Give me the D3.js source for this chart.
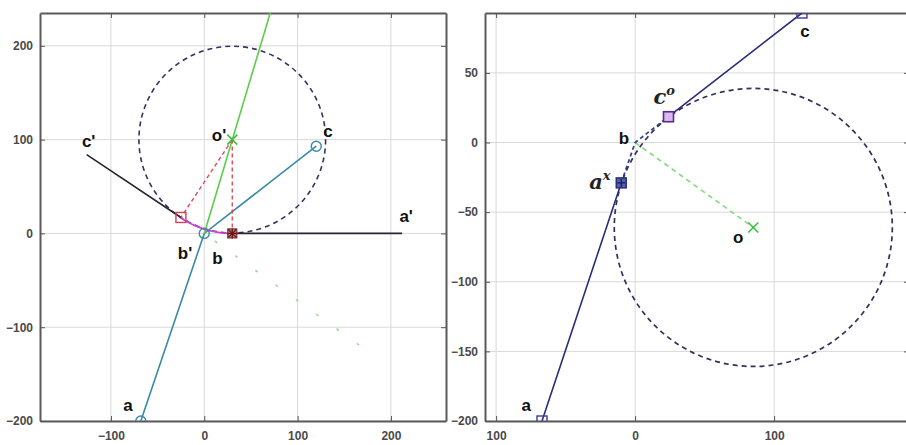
<!DOCTYPE html>
<html><head><meta charset="utf-8">
<script src="https://cdn.jsdelivr.net/npm/d3@7/dist/d3.min.js"></script>
<style>
body{margin:0;background:#fff;}
svg{display:block;}
.tick text{font-family:Arial,"Liberation Sans",sans-serif;font-size:12px;font-weight:bold;fill:#4a4a4a;}
.lbl{font-family:Arial,"Liberation Sans",sans-serif;font-weight:bold;font-size:17px;fill:#111;}
.math{font-family:"DejaVu Serif","Liberation Serif",serif;font-style:italic;font-weight:bold;fill:#222;}
</style></head>
<body>
<svg id="chart" width="906" height="445"></svg>
<script>
// ---------- LEFT PANEL DATA ----------
const L_xDomain = [-176, 259];
const L_yDomain = [-200, 235];
const L_xTicks = [-100, 0, 100, 200];
const L_yTicks = [-200, -100, 0, 100, 200];
const L_teal = [[-68, -200], [0, 0], [120, 93]];          // a - b - c
const L_cPrimeLine = [[-126, 84], [-25, 17]];            // c' - b'
const L_aPrimeLine = [[30, 0], [212, 0]];                // star - a'
const L_center = [30, 100];                              // o'
const L_radius = 100;
const L_bPrime = [-25, 17];
const L_star = [30, 0];
const L_greenLine = [[0, 0], [80, 266]];
const L_greenDots = [[0, 0], [170, -122]];
const L_redDash1 = [[30, 100], [-25, 17]];
const L_redDash2 = [[30, 100], [30, 0]];
const L_labels = [
  {t: "c'", p: [-126, 84], dx: 2, dy: -8, a: "middle"},
  {t: "o'", p: [30, 100], dx: -6, dy: 1, a: "end"},
  {t: "c", p: [120, 93], dx: 7, dy: -9, a: "start"},
  {t: "a'", p: [212, 0], dx: 4, dy: -11, a: "middle"},
  {t: "b'", p: [0, 0], dx: -12, dy: 26, a: "end"},
  {t: "b", p: [0, 0], dx: 8, dy: 31, a: "start"},
  {t: "a", p: [-68, -200], dx: -8, dy: -10, a: "end"}
];

// ---------- RIGHT PANEL DATA ----------
const R_xDomain = [-108, 197];
const R_yDomain = [-200, 93];
const R_xTicks = [-100, 0, 100];
const R_xTickLabels = ["100", "0", "100"];
const R_yTicks = [-200, -150, -100, -50, 0, 50];
const R_lineA = [[-67, -200], [-10, -29]];               // a - a^x
const R_lineC = [[24, 18.5], [120, 93]];                 // c^o - c
const R_corner = [[-10, -29], [0, 0], [24, 18.5]];       // dashed original corner
const R_center = [85, -61];                              // o
const R_radius = 100;
const R_green = [[0, 0], [85, -61]];
const R_a = [-67, -200], R_ax = [-10, -29], R_co = [24, 18.5], R_c = [120, 93];

const svg = d3.select("#chart");

function panel(id, xDom, xRange, yDom, yRange, xTicks, xTickFmt, yTicks) {
  const x = d3.scaleLinear().domain(xDom).range(xRange);
  const y = d3.scaleLinear().domain(yDom).range(yRange);
  const g = svg.append("g");
  svg.append("clipPath").attr("id", id).append("rect")
    .attr("x", xRange[0]).attr("y", yRange[1])
    .attr("width", xRange[1] - xRange[0]).attr("height", yRange[0] - yRange[1]);
  // grid
  g.selectAll(".gx").data(xTicks).join("line")
    .attr("x1", d => x(d)).attr("x2", d => x(d))
    .attr("y1", yRange[1]).attr("y2", yRange[0])
    .attr("stroke", "#d9d9d9").attr("stroke-width", 1);
  g.selectAll(".gy").data(yTicks).join("line")
    .attr("y1", d => y(d)).attr("y2", d => y(d))
    .attr("x1", xRange[0]).attr("x2", xRange[1])
    .attr("stroke", "#d9d9d9").attr("stroke-width", 1);
  // axes
  const xb = d3.axisBottom(x).tickValues(xTicks).tickSizeInner(-5).tickSizeOuter(0).tickPadding(10).tickFormat(xTickFmt);
  const ax = g.append("g").attr("transform", `translate(0,${yRange[0]})`).call(xb);
  const xt = d3.axisTop(x).tickValues(xTicks).tickSizeInner(-5).tickSizeOuter(0).tickFormat("");
  const ax2 = g.append("g").attr("transform", `translate(0,${yRange[1]})`).call(xt);
  const yl = d3.axisLeft(y).tickValues(yTicks).tickSizeInner(-5).tickSizeOuter(0).tickPadding(7).tickFormat(d3.format("d"));
  const ay = g.append("g").attr("transform", `translate(${xRange[0]},0)`).call(yl);
  const yr = d3.axisRight(y).tickValues(yTicks).tickSizeInner(-5).tickSizeOuter(0).tickFormat("");
  const ay2 = g.append("g").attr("transform", `translate(${xRange[1]},0)`).call(yr);
  [ax, ax2, ay, ay2].forEach(a => {
    a.select(".domain").attr("stroke", "#5a5a5a").attr("stroke-width", 2);
    a.selectAll(".tick line").attr("stroke", "#555");
  });
  const plot = svg.append("g").attr("clip-path", `url(#${id})`);
  return {x, y, plot};
}

const line = (x, y) => d3.line().x(d => x(d[0])).y(d => y(d[1]));

// ================= LEFT =================
{
  const {x, y, plot} = panel("clipL", L_xDomain, [40, 446], L_yDomain, [421, 13],
    L_xTicks, d3.format("d"), L_yTicks);
  const L = line(x, y);
  const rpx = x(L_radius) - x(0);
  // faint green dotted line
  plot.append("path").attr("d", L(L_greenDots)).attr("fill", "none")
    .attr("stroke", "#9edc98").attr("stroke-width", 1.6).attr("stroke-dasharray", "3,22")
    .attr("stroke-dashoffset", -38);
  // dashed circle
  plot.append("circle").attr("cx", x(L_center[0])).attr("cy", y(L_center[1])).attr("r", rpx)
    .attr("fill", "none").attr("stroke", "#33355e").attr("stroke-width", 1.6).attr("stroke-dasharray", "5,4");
  // dark lines
  plot.append("path").attr("d", L(L_cPrimeLine)).attr("fill", "none").attr("stroke", "#2a2230").attr("stroke-width", 1.6);
  plot.append("path").attr("d", L(L_aPrimeLine)).attr("fill", "none").attr("stroke", "#2a2230").attr("stroke-width", 1.6);
  // teal polyline
  plot.append("path").attr("d", L(L_teal)).attr("fill", "none").attr("stroke", "#3a8aa6").attr("stroke-width", 1.6);
  // green line
  plot.append("path").attr("d", L(L_greenLine)).attr("fill", "none").attr("stroke", "#5ccc48").attr("stroke-width", 1.6);
  // red dashed
  [L_redDash1, L_redDash2].forEach(s => plot.append("path").attr("d", L(s)).attr("fill", "none")
    .attr("stroke", "#dd4b55").attr("stroke-width", 1.4).attr("stroke-dasharray", "4,3"));
  // magenta arc from b' to star along circle
  const a0 = Math.atan2(L_bPrime[1] - L_center[1], L_bPrime[0] - L_center[0]);
  const a1 = Math.atan2(L_star[1] - L_center[1], L_star[0] - L_center[0]);
  const arcPts = d3.range(0, 1.0001, 0.05).map(t => {
    const ang = a0 + (a1 - a0) * t;
    return [L_center[0] + L_radius * Math.cos(ang), L_center[1] + L_radius * Math.sin(ang)];
  });
  plot.append("path").attr("d", L(arcPts)).attr("fill", "none").attr("stroke", "#cc44cc").attr("stroke-width", 1.8);
  // markers
  L_teal.forEach(p => plot.append("circle").attr("cx", x(p[0])).attr("cy", y(p[1])).attr("r", 5)
    .attr("fill", "none").attr("stroke", "#3a8aa6").attr("stroke-width", 1.4));
  plot.append("rect").attr("x", x(L_bPrime[0]) - 5).attr("y", y(L_bPrime[1]) - 5).attr("width", 10).attr("height", 10)
    .attr("fill", "none").attr("stroke", "#d0405a").attr("stroke-width", 1.4);
  plot.append("rect").attr("x", x(L_star[0]) - 4.5).attr("y", y(L_star[1]) - 4.5).attr("width", 9).attr("height", 9)
    .attr("fill", "#c87070").attr("stroke", "#8a2a2a").attr("stroke-width", 1.2);
  plot.append("path").attr("d", `M${x(L_star[0])-5},${y(L_star[1])}h10M${x(L_star[0])},${y(L_star[1])-5}v10M${x(L_star[0])-4},${y(L_star[1])-4}l8,8M${x(L_star[0])-4},${y(L_star[1])+4}l8,-8`)
    .attr("stroke", "#5a1a1a").attr("stroke-width", 1.2);
  // green x at o'
  const cx = x(L_center[0]), cy = y(L_center[1]);
  plot.append("path").attr("d", `M${cx-5},${cy-5}l10,10M${cx-5},${cy+5}l10,-10`).attr("stroke", "#3cbf3c").attr("stroke-width", 1.6);
  // labels
  svg.selectAll(".llbl").data(L_labels).join("text").attr("class", "lbl")
    .attr("x", d => x(d.p[0]) + d.dx).attr("y", d => y(d.p[1]) + d.dy)
    .attr("text-anchor", d => d.a).text(d => d.t);
}

// ================= RIGHT =================
{
  const {x, y, plot} = panel("clipR", R_xDomain, [485, 909], R_yDomain, [421, 13],
    R_xTicks, (d, i) => R_xTickLabels[i], R_yTicks);
  const L = line(x, y);
  const rpx = x(R_radius) - x(0);
  plot.append("path").attr("d", L(R_green)).attr("fill", "none")
    .attr("stroke", "#86d67e").attr("stroke-width", 1.6).attr("stroke-dasharray", "5,4");
  plot.append("circle").attr("cx", x(R_center[0])).attr("cy", y(R_center[1])).attr("r", rpx)
    .attr("fill", "none").attr("stroke", "#30325c").attr("stroke-width", 1.7).attr("stroke-dasharray", "5,4");
  plot.append("path").attr("d", L(R_corner)).attr("fill", "none")
    .attr("stroke", "#3a3a90").attr("stroke-width", 1.7).attr("stroke-dasharray", "4,3");
  [R_lineA, R_lineC].forEach(s => plot.append("path").attr("d", L(s)).attr("fill", "none")
    .attr("stroke", "#2c2c78").attr("stroke-width", 1.6));
  // markers
  [R_a, R_c].forEach(p => plot.append("rect").attr("x", x(p[0]) - 5).attr("y", y(p[1]) - 5)
    .attr("width", 10).attr("height", 10).attr("fill", "none").attr("stroke", "#3a3aa0").attr("stroke-width", 1.4));
  plot.append("rect").attr("x", x(R_ax[0]) - 5).attr("y", y(R_ax[1]) - 5).attr("width", 10).attr("height", 10)
    .attr("fill", "#5060b0").attr("stroke", "#26287a").attr("stroke-width", 1.4);
  plot.append("path").attr("d", `M${x(R_ax[0])-4},${y(R_ax[1])}h8M${x(R_ax[0])},${y(R_ax[1])-4}v8`)
    .attr("stroke", "#1a1a50").attr("stroke-width", 1.2);
  plot.append("rect").attr("x", x(R_co[0]) - 5).attr("y", y(R_co[1]) - 5).attr("width", 10).attr("height", 10)
    .attr("fill", "#d8b8ee").attr("stroke", "#5a2a8a").attr("stroke-width", 1.6);
  const ox = x(R_center[0]), oy = y(R_center[1]);
  plot.append("path").attr("d", `M${ox-5},${oy-5}l10,10M${ox-5},${oy+5}l10,-10`).attr("stroke", "#3cbf3c").attr("stroke-width", 1.6);
  // labels
  const simple = [
    {t: "c", p: R_c, dx: 3, dy: 24, a: "middle"},
    {t: "b", p: [0, 0], dx: -6, dy: 1, a: "end"},
    {t: "o", p: R_center, dx: -10, dy: 16, a: "end"},
    {t: "a", p: R_a, dx: -11, dy: -10, a: "end"}
  ];
  svg.selectAll(".rlbl").data(simple).join("text").attr("class", "lbl")
    .attr("x", d => x(d.p[0]) + d.dx).attr("y", d => y(d.p[1]) + d.dy)
    .attr("text-anchor", d => d.a).text(d => d.t);
  const math = [
    {t: "c", s: "o", p: R_co, dx: -15, dy: -13},
    {t: "a", s: "x", p: R_ax, dx: -32, dy: 6}
  ];
  math.forEach(m => {
    const tx = svg.append("text").attr("class", "math")
      .attr("x", x(m.p[0]) + m.dx).attr("y", y(m.p[1]) + m.dy).attr("font-size", 21);
    tx.append("tspan").text(m.t);
    tx.append("tspan").attr("font-size", 13).attr("dy", -9).text(m.s);
  });
}
</script>
</body></html>
